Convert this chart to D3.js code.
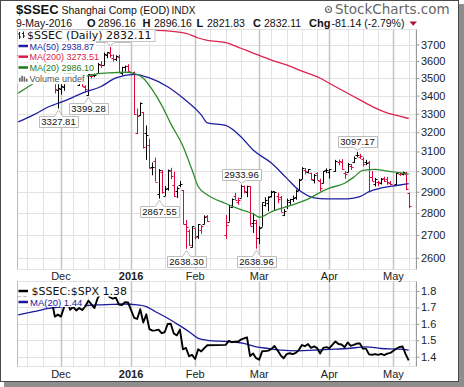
<!DOCTYPE html>
<html lang="en">
<head>
<meta charset="utf-8">
<title>$SSEC Shanghai Comp</title>
<script src="https://d3js.org/d3.v7.min.js"></script>
<style>
  body { margin: 0; background: #fff; }
  svg { display: block; }
  text { font-family: "Liberation Sans", Arial, sans-serif; }
  .verd { font-family: "DejaVu Sans", Verdana, sans-serif; }
  .axis text { font-size: 11px; fill: #222; font-family: "Liberation Sans", Arial, sans-serif; }
  .axis line { stroke: #9a9a9a; }
  .axis path { display: none; }
</style>
</head>
<body>
<script>
// ---- data ----
var dates = [
  "2015-11-11","2015-11-12","2015-11-13","2015-11-16","2015-11-17","2015-11-18","2015-11-19","2015-11-20",
  "2015-11-23","2015-11-24","2015-11-25","2015-11-26","2015-11-27","2015-11-30",
  "2015-12-01","2015-12-02","2015-12-03","2015-12-04","2015-12-07","2015-12-08","2015-12-09","2015-12-10","2015-12-11",
  "2015-12-14","2015-12-15","2015-12-16","2015-12-17","2015-12-18","2015-12-21","2015-12-22","2015-12-23","2015-12-24","2015-12-25",
  "2015-12-28","2015-12-29","2015-12-30","2015-12-31",
  "2016-01-04","2016-01-05","2016-01-06","2016-01-07","2016-01-08","2016-01-11","2016-01-12","2016-01-13","2016-01-14","2016-01-15",
  "2016-01-18","2016-01-19","2016-01-20","2016-01-21","2016-01-22","2016-01-25","2016-01-26","2016-01-27","2016-01-28","2016-01-29",
  "2016-02-01","2016-02-02","2016-02-03","2016-02-04","2016-02-05","2016-02-15","2016-02-16","2016-02-17","2016-02-18","2016-02-19",
  "2016-02-22","2016-02-23","2016-02-24","2016-02-25","2016-02-26","2016-02-29",
  "2016-03-01","2016-03-02","2016-03-03","2016-03-04","2016-03-07","2016-03-08","2016-03-09","2016-03-10","2016-03-11",
  "2016-03-14","2016-03-15","2016-03-16","2016-03-17","2016-03-18","2016-03-21","2016-03-22","2016-03-23","2016-03-24","2016-03-25",
  "2016-03-28","2016-03-29","2016-03-30","2016-03-31",
  "2016-04-01","2016-04-05","2016-04-06","2016-04-07","2016-04-08","2016-04-11","2016-04-12","2016-04-13","2016-04-14","2016-04-15",
  "2016-04-18","2016-04-19","2016-04-20","2016-04-21","2016-04-22","2016-04-25","2016-04-26","2016-04-27","2016-04-28","2016-04-29",
  "2016-05-03","2016-05-04","2016-05-05","2016-05-06","2016-05-09"
];
var opens = [
  3635,3655,3605,3550,3625,3605,3575,3620,3630,3600,3615,3655,3616,3433,
  3439,3450,3535,3558,3522,3520,3460,3470,3448,3405,3510,3516,3530,3575,3576,3637,3650,3620,3613,3626,3528,3567,3570,
  3536,3196,3291,3309,3195,3131,3023,3050,2890,2998,2880,2918,3000,2934,2905,2930,2908,2750,2717,2648,
  2730,2695,2720,2748,2786,2700,2760,2829,2880,2853,2872,2927,2898,2926,2753,2752,
  2688,2737,2838,2845,2880,2902,2881,2875,2789,2830,2850,2867,2874,2908,2962,3006,2995,2990,2955,2991,2952,2940,3004,
  2995,3000,3046,3048,2993,2998,3028,3045,3080,3074,3060,3046,3048,2970,2935,2947,2940,2965,2962,2941,
  2937,2985,2985,2987,2896.16
];
var highs = [
  3652,3665,3625,3607,3678,3615,3618,3640,3654,3617,3648,3668,3621,3470,
  3484,3538,3592,3568,3543,3524,3497,3490,3458,3522,3525,3534,3590,3600,3651,3652,3684.57,3640,3635,3638,3566,3573,3581,
  3538,3328,3362,3309,3236,3166,3044,3068,3011,3006,2927,3008,3017,2998,2925,2952,2908,2767,2724,2738,
  2733,2749,2745,2789,2790,2790,2837,2868,2895,2872,2933.96,2930,2929,2928,2800,2768,
  2739,2849,2873,2878,2905,2902,2895,2880,2818,2867,2866,2882,2910,2963,3020,3016,3010,2993,2986,2994,2963,3001,3014,
  3010,3057,3059,3061,3001,3041,3036,3074,3097.17,3088,3070,3057,3051,3000,2967,2953,2967,2973,2972,2952,
  2993,2994,2998,2996,2896.16
];
var lows = [
  3620,3625,3575,3550,3600,3560,3570,3605,3590,3570,3605,3629,3412,3327.81,
  3406,3427,3518,3513,3505,3466,3455,3450,3418,3399.28,3497,3505,3530,3560,3573,3617,3620,3597,3600,3532,3515,3538,3538,
  3295,3189,3288,3115,3057,3016,2980,2949,2867.55,2891,2880,2905,2961,2875,2870,2922,2748,2638.30,2653,2645,
  2680,2682,2705,2747,2760,2682,2760,2824,2861,2838,2872,2893,2874,2741,2709,2638.96,
  2659,2737,2830,2808,2873,2812,2845,2805,2785,2818,2838,2851,2862,2905,2962,2985,2989,2955,2940,2956,2902,2940,2990,
  2964,2998,3029,3008,2962,2994,3006,3042,3070,3062,3023,3030,2897,2951,2925,2927,2935,2947,2933,2931,
  2930,2977,2980,2908,2821.83
];
var closes = [
  3650,3633,3581,3607,3605,3568,3617,3630,3610,3616,3648,3636,3436,3445,
  3456,3537,3585,3525,3537,3470,3472,3456,3435,3521,3510,3516,3580,3579,3642,3652,3636,3612,3628,3534,3564,3573,3539,
  3296,3287,3361,3125,3186,3016,3022,2949,3007,2901,2913,3008,2977,2880,2917,2939,2750,2735,2656,2738,
  2689,2749,2739,2782,2763,2746,2837,2867,2862,2860,2927,2903,2928,2741,2767,2688,
  2733,2849,2859,2874,2897,2901,2863,2805,2810,2859,2864,2870,2904,2955,3018,2999,3009,2961,2979,2957,2920,3001,3004,
  3009,3053,3051,3009,2985,3034,3023,3066,3082,3078,3034,3043,2972,2953,2960,2946,2964,2954,2946,2938,
  2992,2991,2998,2913.25,2832.11
];
var prevClose = 3640.49;

// $SSEC:$SPX ratio, one value per bar date
var ratio = [
  1.759,1.776,1.770,1.757,1.758,1.712,1.737,1.738,1.730,1.731,1.746,1.741,1.644,1.656,
  1.644,1.700,1.749,1.686,1.703,1.682,1.696,1.684,1.707,1.741,1.718,1.696,1.754,1.784,1.802,1.792,1.762,1.753,1.760,1.718,1.715,1.732,1.731,
  1.637,1.630,1.689,1.608,1.658,1.568,1.559,1.560,1.565,1.543,1.549,1.599,1.601,1.541,1.530,1.565,1.445,1.453,1.403,1.411,
  1.386,1.445,1.432,1.452,1.470,1.472,1.496,1.488,1.492,1.491,1.504,1.511,1.518,1.404,1.420,1.391,
  1.382,1.434,1.434,1.437,1.447,1.465,1.439,1.410,1.390,1.416,1.421,1.416,1.423,1.441,1.471,1.464,1.477,1.454,1.463,1.452,1.420,1.454,1.458,
  1.452,1.493,1.477,1.474,1.458,1.487,1.466,1.472,1.480,1.480,1.449,1.449,1.414,1.412,1.416,1.411,1.417,1.410,1.419,1.423,
  1.450,1.459,1.462,1.416,1.378
];

var ma50Dates = ["2015-11-11","2015-11-18","2015-11-25","2015-12-03","2015-12-10","2015-12-18","2015-12-25","2016-01-04","2016-01-11",
  "2016-01-19","2016-01-26","2016-02-03","2016-02-05","2016-02-15","2016-02-22","2016-02-26","2016-03-07","2016-03-14","2016-03-18",
  "2016-03-25","2016-03-31","2016-04-11","2016-04-15","2016-04-20","2016-04-26","2016-05-03","2016-05-09"];
var ma50Vals = [3255,3293,3338,3376,3414,3450,3501,3522,3501,3450,3386,3293,3250,3236,3176,3107,3041,2966,2908,
  2871,2866,2866,2876,2900,2918,2930,2938.87];

var ma200Dates = ["2015-11-11","2015-12-01","2015-12-21","2016-01-05","2016-01-27","2016-02-02","2016-02-05","2016-02-15","2016-02-22",
  "2016-02-26","2016-03-07","2016-03-14","2016-03-21","2016-03-29","2016-04-01","2016-04-11","2016-04-15","2016-04-22","2016-04-27",
  "2016-05-03","2016-05-09"];
var ma200Vals = [3990,3900,3840,3800,3769,3740,3725,3712,3677,3648,3606,3577,3540,3499,3470,3413,3376,3332,3310,3290,3273.51];

var ma20Dates = ["2015-11-11","2015-11-16","2015-11-20","2015-11-27","2015-12-04","2015-12-11","2015-12-16","2015-12-24","2015-12-30",
  "2016-01-04","2016-01-07","2016-01-12","2016-01-15","2016-01-20","2016-01-26","2016-01-29","2016-02-02","2016-02-05","2016-02-15",
  "2016-02-22","2016-02-26","2016-03-01","2016-03-07","2016-03-14","2016-03-18","2016-03-24","2016-03-29","2016-04-01","2016-04-08",
  "2016-04-13","2016-04-18","2016-04-22","2016-04-28","2016-05-04","2016-05-09"];
var ma20Vals = [3414,3447,3490,3540,3525,3510,3522,3531,3534,3527,3499,3432,3347,3246,3127,3006,2925,2885,2844,
  2815,2796,2780,2805,2829,2848,2872,2897,2917,2941,2971,3004,3009,3001,2993,2986.10];

var rmaDates = ["2015-11-11","2015-11-18","2015-11-25","2015-12-01","2015-12-09","2015-12-17","2015-12-24","2015-12-30","2016-01-05",
  "2016-01-08","2016-01-13","2016-01-19","2016-01-22","2016-01-28","2016-02-02","2016-02-05","2016-02-15","2016-02-17","2016-02-23",
  "2016-02-29","2016-03-04","2016-03-10","2016-03-18","2016-03-25","2016-04-05","2016-04-11","2016-04-19","2016-04-26","2016-05-04","2016-05-09"];
var rmaVals = [1.654,1.674,1.694,1.704,1.709,1.715,1.718,1.721,1.715,1.705,1.674,1.634,1.600,1.552,1.512,1.500,1.493,1.491,1.481,
  1.460,1.450,1.440,1.436,1.440,1.446,1.450,1.460,1.450,1.446,1.440];

var calloutDates = ["2015-11-30","2015-12-14","2015-12-23","2016-01-14","2016-01-27","2016-02-22","2016-02-29","2016-04-14"];
var calloutVals = [3327.81,3399.28,3684.57,2867.55,2638.30,2933.96,2638.96,3097.17];
var calloutTypes = ["low","low","high","low","low","high","low","high"];

var priceTicks = [2600,2700,2800,2900,3000,3100,3200,3300,3400,3500,3600,3700];
var ratioTicks = [1.4,1.5,1.6,1.7,1.8];
var monthDates = ["2015-12-01","2016-01-01","2016-02-01","2016-03-01","2016-04-01","2016-05-02"];
var monthLabels = ["Dec","2016","Feb","Mar","Apr","May"];
var weekDates = ["2015-11-16","2015-11-23","2015-12-07","2015-12-14","2015-12-21","2015-12-28","2016-01-11","2016-01-18",
  "2016-01-25","2016-02-08","2016-02-15","2016-02-22","2016-03-07","2016-03-14","2016-03-21","2016-03-28","2016-04-11",
  "2016-04-18","2016-04-25","2016-05-09"];

// ---- layout ----
var w = 464, h = 387;
var L = 17, R = 416, T1 = 29.5, B1 = 269.5, T2 = 281.5, B2 = 366.5;
var RED = "#e2063c";
var legendBottom = T1 + 12;

// weekday slots (holidays leave gaps, weekends do not)
var fmt = d3.utcFormat("%Y-%m-%d");
var allDays = d3.utcDay.range(new Date(Date.UTC(2015, 10, 2)), new Date(Date.UTC(2016, 4, 20)))
  .filter(function(d) { return d.getUTCDay() !== 0 && d.getUTCDay() !== 6; });
var slot = new Map(allDays.map(function(d, i) { return [fmt(d), i]; }));
var base = slot.get("2015-12-01");

var x = d3.scaleLinear().domain([-14.4, 116.4]).range([L, R]);
function xd(s) { return x(slot.get(s) - base); }
function px(s) { return Math.round(xd(s)) + 0.5; }

var y = d3.scaleLog().domain([2600, 3700]).range([257.7, 44.5]);
var yr = d3.scaleLinear().domain([1.4, 1.8]).range([356.7, 291]);

var svg = d3.select("body").append("svg").attr("width", w).attr("height", h);

// frame with drop shadow
svg.append("rect").attr("x", 4).attr("y", 4).attr("width", 460).attr("height", 383).attr("fill", "#8e8e8e");
svg.append("rect").attr("x", 0.5).attr("y", 0.5).attr("width", 458).attr("height", 381)
  .attr("fill", "#fff").attr("stroke", "#4a4a4a");

var defs = svg.append("defs");
defs.append("clipPath").attr("id", "clipTop").append("rect")
  .attr("x", L).attr("y", T1).attr("width", R - L).attr("height", B1 - T1);
defs.append("clipPath").attr("id", "clipBot").append("rect")
  .attr("x", L).attr("y", T2).attr("width", R - L).attr("height", B2 - T2);

// ---- gridlines ----
function vGrid(top, bottom) {
  var g = svg.append("g");
  g.selectAll(".wk").data(weekDates).join("line")
    .attr("x1", px).attr("x2", px).attr("y1", top).attr("y2", bottom)
    .attr("stroke", "#e2e2e2");
  g.selectAll(".mo").data(monthDates).join("line")
    .attr("x1", px).attr("x2", px).attr("y1", top).attr("y2", bottom)
    .attr("stroke", "#c4c4c4").attr("stroke-width", 1.5);
}
svg.append("g").selectAll("line").data(priceTicks).join("line")
  .attr("x1", L).attr("x2", R)
  .attr("y1", function(d) { return Math.round(y(d)) + 0.5; })
  .attr("y2", function(d) { return Math.round(y(d)) + 0.5; })
  .attr("stroke", "#e2e2e2");
svg.append("g").selectAll("line").data(ratioTicks).join("line")
  .attr("x1", L).attr("x2", R)
  .attr("y1", function(d) { return Math.round(yr(d)) + 0.5; })
  .attr("y2", function(d) { return Math.round(yr(d)) + 0.5; })
  .attr("stroke", "#e2e2e2");
vGrid(T1, B1);
vGrid(T2, B2);

// panel borders
[[T1, B1], [T2, B2]].forEach(function(p) {
  svg.append("rect").attr("x", L + 0.5).attr("y", p[0]).attr("width", R - L - 0.5).attr("height", p[1] - p[0])
    .attr("fill", "none").attr("stroke", "#c8c8c8").attr("stroke-dasharray", "1,1");
  svg.append("line").attr("x1", L + 0.5).attr("x2", L + 0.5).attr("y1", p[0]).attr("y2", p[1]).attr("stroke", "#bdbdbd");
  svg.append("line").attr("x1", R + 0.5).attr("x2", R + 0.5).attr("y1", p[0]).attr("y2", p[1]).attr("stroke", "#9a9a9a");
});

// ---- price panel ----
var gTop = svg.append("g").attr("clip-path", "url(#clipTop)");

var bars = dates.map(function(d, i) {
  return { d: d, o: opens[i], h: highs[i], l: lows[i], c: closes[i], pc: i ? closes[i - 1] : prevClose };
});
gTop.selectAll("path.bar").data(bars).join("path")
  .attr("class", "bar")
  .attr("d", function(b) {
    var cx = px(b.d);
    var yo = Math.round(y(b.o)) + 0.5, yc = Math.round(y(b.c)) + 0.5;
    return "M" + cx + "," + y(b.h) + "V" + y(b.l) +
      "M" + (cx - 2) + "," + yo + "H" + cx +
      "M" + cx + "," + yc + "H" + (cx + 2);
  })
  .attr("fill", "none")
  .attr("stroke", function(b) { return b.c >= b.pc ? "#000" : RED; })
  .attr("stroke-width", 1);

function maLine(g, ds, vs, sc, color, width) {
  var pts = ds.map(function(d, i) { return [xd(d), sc(vs[i])]; });
  g.append("path").attr("d", d3.line().curve(d3.curveMonotoneX)(pts))
    .attr("fill", "none").attr("stroke", color).attr("stroke-width", width);
}
maLine(gTop, ma200Dates, ma200Vals, y, "#dc2350", 1.3);
maLine(gTop, ma50Dates, ma50Vals, y, "#1f1fa0", 1.3);
maLine(gTop, ma20Dates, ma20Vals, y, "#2e8b2e", 1.3);

// high / low callouts
calloutDates.forEach(function(d, i) {
  var v = calloutVals[i], cx = px(d), cy = y(v);
  var g = gTop.append("g");
  var label = d3.format(".2f")(v);
  var t = g.append("text").attr("font-size", "9.5px").attr("fill", "#111")
    .attr("text-anchor", "middle").attr("x", cx).text(label);
  var bw = Math.round(t.node().getComputedTextLength() + 5), bh = 11;
  var x0 = Math.round(cx - bw / 2) + 0.5, x1 = x0 + bw, top, bot, p;
  if (calloutTypes[i] === "low") {
    top = Math.round(cy + 7.5) + 0.5; bot = top + bh;
    p = "M" + x0 + "," + top + "H" + (cx - 4) + "L" + cx + "," + (cy + 1.5) + "L" + (cx + 4) + "," + top +
      "H" + x1 + "V" + bot + "H" + x0 + "Z";
  } else {
    bot = Math.round(cy - 5) + 0.5; top = bot - bh;
    p = "M" + x0 + "," + top + "H" + x1 + "V" + bot + "H" + (cx + 4) + "L" + cx + "," + (cy - 1.5) +
      "L" + (cx - 4) + "," + bot + "H" + x0 + "Z";
  }
  t.attr("y", bot - 2.2);
  // a balloon tucked under the legend box only shows its pointer
  if (top < legendBottom) t.remove();
  g.insert("path", "text").attr("d", p).attr("fill", "#fff").attr("stroke", "#bcbcbc");
});

// legend, price panel
var legBox = svg.append("rect").attr("x", L + 0.5).attr("y", T1).attr("height", 12)
  .attr("fill", "#fff").attr("stroke", "#c4c4c4");
var title = svg.append("text").attr("class", "verd").attr("font-size", "11px").attr("fill", "#111")
  .attr("x", 27).attr("y", 38.5).text("$SSEC (Daily) 2832.11");
legBox.attr("width", title.node().getComputedTextLength() + 13);
svg.append("path").attr("d", "M19.5,32V39M18,34H19.5M19.5,37H21M23.5,31.5V38M22,33.5H23.5M23.5,36H25")
  .attr("stroke", "#222").attr("fill", "none");

var legRows = [
  { t: "MA(50) 2938.87", c: "#1f1fa0", y: 49.5 },
  { t: "MA(200) 3273.51", c: "#dc1c48", y: 60.2 },
  { t: "MA(20) 2986.10", c: "#1e781e", y: 71 },
  { t: "Volume undef", c: "#555", y: 81.7 }
];
legRows.forEach(function(r, i) {
  var g = svg.append("g");
  var bg = g.append("rect").attr("x", L + 0.5).attr("y", r.y - 8.2).attr("height", 10.7).attr("fill", "#fff");
  var t = g.append("text").attr("font-size", "9px").attr("fill", r.c).attr("x", 29.5).attr("y", r.y).text(r.t);
  bg.attr("width", t.node().getComputedTextLength() + 14);
  if (i < 3) {
    g.append("line").attr("x1", 18.5).attr("x2", 28).attr("y1", r.y - 3.5).attr("y2", r.y - 3.5)
      .attr("stroke", r.c).attr("stroke-width", 2.5);
  } else {
    g.selectAll("rect.vb").data([4, 6, 5, 3]).join("rect")
      .attr("x", function(d, k) { return 19 + k * 2.3; }).attr("y", function(d) { return r.y - d; })
      .attr("width", 1.6).attr("height", function(d) { return d; }).attr("fill", "#666");
  }
});

// right axis, price
svg.append("g").attr("class", "axis").attr("transform", "translate(" + (R + 0.5) + ",0)")
  .call(d3.axisRight(y).tickValues(priceTicks).tickFormat(d3.format("d")).tickSize(3).tickSizeOuter(0).tickPadding(1.5));

// ---- ratio panel ----
var gBot = svg.append("g").attr("clip-path", "url(#clipBot)");
maLine(gBot, rmaDates, rmaVals, yr, "#1a1a9a", 1.3);
gBot.append("path")
  .attr("d", d3.line().x(function(d) { return xd(d); }).y(function(d, i) { return yr(ratio[i]); })(dates))
  .attr("fill", "none").attr("stroke", "#000").attr("stroke-width", 1.9).attr("stroke-linejoin", "round");

var r1bg = svg.append("rect").attr("x", L + 1).attr("y", T2 + 1).attr("height", 14).attr("fill", "#fff");
var r1 = svg.append("text").attr("class", "verd").attr("font-size", "11px").attr("fill", "#111")
  .attr("x", 31.5).attr("y", 295).text("$SSEC:$SPX 1.38");
r1bg.attr("width", r1.node().getComputedTextLength() + 16);
svg.append("line").attr("x1", 18.5).attr("x2", 28).attr("y1", 291).attr("y2", 291)
  .attr("stroke", "#000").attr("stroke-width", 2.5);
var r2bg = svg.append("rect").attr("x", L + 1).attr("y", 296.5).attr("height", 10.5).attr("fill", "#fff");
var r2 = svg.append("text").attr("font-size", "9.5px").attr("fill", "#1a1a9a").attr("x", 30).attr("y", 305.5).text("MA(20) 1.44");
r2bg.attr("width", r2.node().getComputedTextLength() + 14);
svg.append("line").attr("x1", 18.5).attr("x2", 28).attr("y1", 302).attr("y2", 302)
  .attr("stroke", "#1a1a9a").attr("stroke-width", 2.5);

svg.append("g").attr("class", "axis").attr("transform", "translate(" + (R + 0.5) + ",0)")
  .call(d3.axisRight(yr).tickValues(ratioTicks).tickFormat(d3.format(".1f")).tickSize(3).tickSizeOuter(0).tickPadding(1.5));

// month labels under both panels
[280, 378].forEach(function(by) {
  svg.append("g").selectAll("text").data(monthDates).join("text")
    .attr("x", function(d) { return xd(d); }).attr("y", by)
    .attr("text-anchor", "middle").attr("font-size", "11px").attr("fill", "#222")
    .attr("font-weight", function(d, i) { return monthLabels[i] === "2016" ? "bold" : "normal"; })
    .text(function(d, i) { return monthLabels[i]; });
});

// ---- header ----
svg.append("text").attr("x", 16).attr("y", 14).attr("font-size", "13px").attr("font-weight", "bold").attr("fill", "#111").text("$SSEC");
svg.append("text").attr("x", 61.5).attr("y", 14).attr("font-size", "10.5px").attr("fill", "#111").text("Shanghai Comp (EOD)");
svg.append("text").attr("x", 171.5).attr("y", 14).attr("font-size", "10px").attr("fill", "#111").text("INDX");
svg.append("circle").attr("cx", 328.5).attr("cy", 9.5).attr("r", 3).attr("fill", "none").attr("stroke", "#666").attr("stroke-width", 1.2);
svg.append("circle").attr("cx", 328.5).attr("cy", 9.5).attr("r", 1).attr("fill", "#666");
svg.append("text").attr("class", "verd").attr("x", 335).attr("y", 14).attr("font-size", "13.5px").attr("fill", "#666").text("StockCharts.com");

var hdr = [
  { x: 16, t: "9-May-2016", b: false },
  { x: 87, t: "O", b: true }, { x: 98, t: "2896.16", b: false },
  { x: 142.5, t: "H", b: true }, { x: 154, t: "2896.16", b: false },
  { x: 196.5, t: "L", b: true }, { x: 207, t: "2821.83", b: false },
  { x: 253, t: "C", b: true }, { x: 264, t: "2832.11", b: false },
  { x: 309, t: "Chg", b: true }, { x: 331.5, t: "-81.14 (-2.79%)", b: false }
];
svg.append("g").selectAll("text").data(hdr).join("text")
  .attr("x", function(d) { return d.x; }).attr("y", 26.5)
  .attr("font-size", function(d) { return d.b ? "11px" : "10.5px"; })
  .attr("font-weight", function(d) { return d.b ? "bold" : "normal"; })
  .attr("fill", "#111").text(function(d) { return d.t; });
svg.append("path").attr("d", "M409.5,21.5H417L413.2,25.8Z").attr("fill", "#b0103a");
</script>
</body>
</html>
